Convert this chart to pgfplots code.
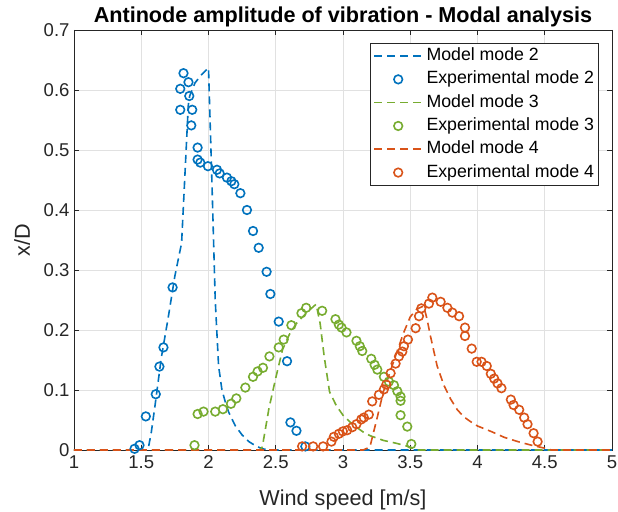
\documentclass[border=0pt]{standalone}
\usepackage{fontspec}
\setmainfont{Liberation Sans}
\usepackage{pgfplots}
\pgfplotsset{compat=1.18}
\definecolor{mblue}{RGB}{0,114,189}
\definecolor{morange}{RGB}{217,83,25}
\definecolor{mgreen}{RGB}{119,172,48}
\definecolor{axgray}{RGB}{38,38,38}
\definecolor{gridgray}{RGB}{225,225,225}
\pgfplotsset{
  linelegend/.style={legend image code/.code={\draw[##1] (0bp,0bp) -- (50bp,0bp);}},
  marklegend/.style={legend image code/.code={\draw[##1] plot coordinates {(24bp,0bp)};}},
  modelline/.style={line width=1.6bp, dash pattern=on 8bp off 5bp, linelegend},
  expmarks/.style={only marks, mark=o, mark size=4.3bp, line width=1.6bp,
     mark options={line width=1.6bp, solid}, marklegend},
}
\begin{document}
\begin{tikzpicture}
\path[use as bounding box] (-74bp,-62bp) rectangle (544bp,450bp);
\begin{axis}[
  at={(0,0)}, anchor=south west,
  scale only axis, width=538bp, height=420bp,
  xmin=1, xmax=5, ymin=0, ymax=0.7,
  xtick={1,1.5,...,5}, ytick={0,0.1,...,0.7},
  /pgf/number format/assume math mode=true,
  tick label style={font=\fontsize{18.6}{22}\selectfont, text=axgray},
  yticklabel style={xshift=-1bp},
  xticklabel style={yshift=-2bp},
  tick align=inside, major tick length=5bp,
  tick style={draw=axgray, line width=0.8bp},
  axis line style={draw=axgray, line width=0.9bp},
  grid=major, major grid style={draw=gridgray, line width=0.9bp},
  title={\textbf{Antinode amplitude of vibration - Modal analysis}},
  title style={font=\fontsize{21.7}{24}\selectfont, at={(0.5,1)}, anchor=base, yshift=1.5bp},
  xlabel={Wind speed [m/s]},
  xlabel style={font=\fontsize{21.7}{24}\selectfont, at={(0.5,0)}, anchor=base, yshift=-55bp, text=axgray},
  ylabel={x/D},
  ylabel style={font=\fontsize{21.7}{24}\selectfont, at={(-0.0818,0.5)}, anchor=base, text=axgray},
  legend style={at={(0.9758,0.969)}, anchor=north east, draw=axgray, line width=0.8bp,
    font=\fontsize{17.8}{20}\selectfont, inner xsep=3bp, inner ysep=1bp,
    nodes={text height=12.7bp, text depth=3.6bp, inner ysep=3.5bp, inner xsep=1.5bp},
    row sep=0pt},
  legend cell align=left,
]
% Model mode 2
\addplot[mblue, modelline] coordinates {
(1,0) (1.5,0) (1.55,0) (1.575,0.03) (1.6,0.07) (1.65,0.155) (1.7,0.22) (1.75,0.29) (1.8,0.345)
(1.85,0.575) (1.86,0.59) (1.9,0.612) (1.95,0.626) (2.0,0.637) (2.025,0.45) (2.05,0.25)
(2.075,0.14) (2.1,0.1) (2.125,0.08) (2.15,0.063) (2.2,0.04) (2.25,0.025) (2.3,0.014)
(2.35,0.007) (2.4,0.002) (2.45,0) (5,0)};
\addlegendentry{Model mode 2}
% Experimental mode 2
\addplot[mblue, expmarks] coordinates {
(1.45,0.002) (1.487,0.008) (1.534,0.056) (1.608,0.093) (1.635,0.139) (1.665,0.171) (1.733,0.271)
(1.79,0.567) (1.79,0.602) (1.814,0.628) (1.851,0.613) (1.857,0.59) (1.879,0.567) (1.872,0.541)
(1.919,0.504) (1.919,0.484) (1.939,0.479) (1.996,0.473) (2.063,0.467) (2.083,0.461)
(2.137,0.454) (2.17,0.448) (2.192,0.443) (2.237,0.428) (2.286,0.40) (2.331,0.365)
(2.373,0.337) (2.432,0.297) (2.46,0.26) (2.522,0.214) (2.584,0.148) (2.609,0.046)
(2.654,0.032) (2.72,0.006)};
\addlegendentry{Experimental mode 2}
% Model mode 3
\addplot[mgreen, modelline] coordinates {
(1,0) (2.38,0) (2.4,0.005) (2.45,0.07) (2.5,0.12) (2.55,0.167) (2.6,0.192) (2.65,0.21)
(2.7,0.222) (2.75,0.233) (2.8,0.243) (2.83,0.211) (2.86,0.156) (2.9,0.097) (2.95,0.074)
(3.0,0.058) (3.05,0.047) (3.1,0.038) (3.15,0.03) (3.2,0.024) (3.3,0.016) (3.4,0.011)
(3.5,0.005) (3.55,0) (5,0)};
\addlegendentry{Model mode 3}
% Experimental mode 3
\addplot[mgreen, expmarks] coordinates {
(1.896,0.008) (1.919,0.06) (1.963,0.064) (2.05,0.064) (2.107,0.068) (2.167,0.077)
(2.207,0.086) (2.274,0.104) (2.331,0.122) (2.365,0.131) (2.405,0.137) (2.453,0.156)
(2.522,0.171) (2.559,0.184) (2.616,0.208) (2.691,0.228) (2.726,0.237) (2.845,0.232)
(2.944,0.218) (2.969,0.209) (2.989,0.204) (3.026,0.196) (3.10,0.182) (3.125,0.173)
(3.143,0.165) (3.21,0.152) (3.235,0.142) (3.255,0.134) (3.304,0.122) (3.341,0.114)
(3.379,0.108) (3.404,0.098) (3.428,0.089) (3.428,0.082) (3.428,0.058) (3.478,0.039)
(3.508,0.01)};
\addlegendentry{Experimental mode 3}
% Model mode 4
\addplot[morange, modelline] coordinates {
(1,0) (3.15,0) (3.2,0.005) (3.25,0.05) (3.3,0.097) (3.35,0.13) (3.4,0.163) (3.45,0.195)
(3.5,0.222) (3.55,0.235) (3.6,0.24) (3.625,0.218) (3.65,0.19) (3.7,0.14) (3.75,0.108)
(3.8,0.085) (3.85,0.067) (3.9,0.055) (3.95,0.047) (4.0,0.04) (4.1,0.031) (4.2,0.021)
(4.3,0.014) (4.4,0.008) (4.5,0.003) (4.55,0) (5,0)};
\addlegendentry{Model mode 4}
% Experimental mode 4
\addplot[morange, expmarks] coordinates {
(2.696,0.006) (2.778,0.006) (2.852,0.006) (2.914,0.014) (2.932,0.022) (2.969,0.027)
(2.999,0.031) (3.031,0.033) (3.069,0.038) (3.10,0.043) (3.136,0.051) (3.155,0.054)
(3.192,0.059) (3.217,0.081) (3.267,0.092) (3.304,0.101) (3.322,0.109) (3.354,0.128)
(3.391,0.144) (3.416,0.156) (3.441,0.164) (3.453,0.173) (3.483,0.184) (3.54,0.203)
(3.565,0.223) (3.582,0.236) (3.639,0.244) (3.664,0.254) (3.726,0.247) (3.776,0.237)
(3.813,0.229) (3.863,0.223) (3.907,0.204) (3.907,0.19) (3.957,0.169) (3.994,0.147)
(4.03,0.147) (4.069,0.14) (4.099,0.127) (4.124,0.119) (4.149,0.111) (4.178,0.103)
(4.248,0.084) (4.268,0.075) (4.31,0.067) (4.347,0.054) (4.372,0.043) (4.417,0.028)
(4.447,0.014)};
\addlegendentry{Experimental mode 4}
\end{axis}
\end{tikzpicture}
\end{document}
